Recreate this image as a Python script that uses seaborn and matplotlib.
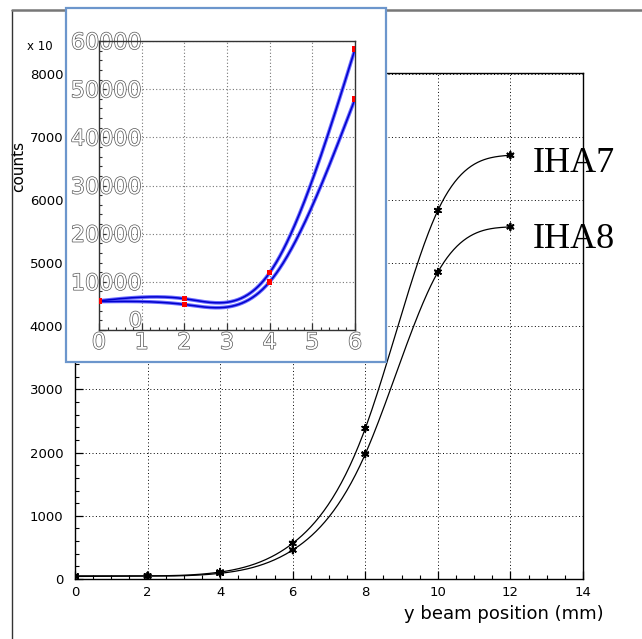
import numpy as np
import pandas as pd
import matplotlib
matplotlib.use("Agg")
import matplotlib.pyplot as plt
import matplotlib.patheffects as pe
import matplotlib.transforms as mtransforms
from matplotlib.patches import Rectangle
from matplotlib.lines import Line2D
from matplotlib.ticker import MultipleLocator
import seaborn as sns

# ---------------- data ----------------
y_pos = [0, 2, 4, 6, 8, 10, 12]
iha7_counts = [50, 50, 110, 565, 2384, 5834, 6709]
iha8_counts = [40, 45, 90, 459, 1978, 4858, 5574]

inset_x = [0, 2, 4, 6]
inset_upper = [6060, 6500, 11900, 58300]
inset_lower = [5900, 5300, 10000, 47950]

main_xticks = [0, 2, 4, 6, 8, 10, 12, 14]
main_yticks = [0, 1000, 2000, 3000, 4000, 5000, 6000, 7000, 8000]
inset_xticks = [0, 1, 2, 3, 4, 5, 6]
inset_yticks = [0, 10000, 20000, 30000, 40000, 50000, 60000]
series_names = ["IHA7", "IHA8"]


def natural_spline(x, y, xs):
    x = np.asarray(x, float); y = np.asarray(y, float)
    n = len(x); h = np.diff(x)
    A = np.zeros((n, n)); r = np.zeros(n)
    A[0, 0] = A[-1, -1] = 1
    for i in range(1, n - 1):
        A[i, i - 1] = h[i - 1]
        A[i, i] = 2 * (h[i - 1] + h[i])
        A[i, i + 1] = h[i]
        r[i] = 3 * ((y[i + 1] - y[i]) / h[i] - (y[i] - y[i - 1]) / h[i - 1])
    c = np.linalg.solve(A, r)
    b = (y[1:] - y[:-1]) / h - h * (2 * c[:-1] + c[1:]) / 3
    d = (c[1:] - c[:-1]) / (3 * h)
    idx = np.clip(np.searchsorted(x, xs) - 1, 0, n - 2)
    dx = xs - x[idx]
    return y[idx] + b[idx] * dx + c[idx] * dx ** 2 + d[idx] * dx ** 3


sns.set_theme(style="white")
plt.rcParams["font.family"] = ["DejaVu Sans"]
plt.rcParams["text.color"] = "black"
plt.rcParams["axes.labelcolor"] = "black"
plt.rcParams["xtick.color"] = "black"
plt.rcParams["ytick.color"] = "black"

W, H = 642, 639
fig = plt.figure(figsize=(W / 100, H / 100), dpi=100)

def fx(px): return px / W
def fy(py): return 1 - py / H

# outer pad frame
fig.add_artist(Line2D([fx(12), fx(12)], [fy(10), 0], color="#333333", lw=1.0, zorder=0.5))
fig.add_artist(Line2D([fx(12), 1], [fy(10), fy(10)], color="#777777", lw=1.8, zorder=0.5))

# ---------------- main axes ----------------
ax = fig.add_axes([fx(75), fy(579), fx(583) - fx(75), fy(73) - fy(579)], zorder=0)
ax.set_facecolor("white")
df = pd.DataFrame({
    "x": y_pos * 2,
    "counts": iha7_counts + iha8_counts,
    "det": [series_names[0]] * len(y_pos) + [series_names[1]] * len(y_pos),
})
xs = np.linspace(0, 12, 400)
for vals in (iha7_counts, iha8_counts):
    ax.plot(xs, natural_spline(y_pos, vals, xs), color="black", lw=0.9, zorder=3)
sns.scatterplot(data=df, x="x", y="counts", hue="det", palette=["black", "black"],
                marker=(6, 2, 0), s=24, linewidth=1.3, edgecolor="black",
                legend=False, ax=ax, zorder=4)
ax.set_xlim(0, 14)
ax.set_ylim(0, 8010)
ax.set_xticks(main_xticks)
ax.set_yticks(main_yticks)
ax.xaxis.set_minor_locator(MultipleLocator(0.5))
ax.yaxis.set_minor_locator(MultipleLocator(200))
ax.tick_params(which="both", direction="in", bottom=True, left=True, top=False, right=False,
               colors="black", labelsize=9.5)
ax.tick_params(which="major", length=6, width=0.9)
ax.tick_params(which="minor", length=3, width=0.8)
ax.tick_params(axis="y", pad=8.5)
ax.tick_params(axis="x", pad=5)
ax.grid(True, which="major", color="black", linestyle=(0, (1, 2.5)), lw=0.7)
for s in ax.spines.values():
    s.set_color("black"); s.set_linewidth(1.0)
ax.set_xlabel("y beam position (mm)", fontsize=13)
ax.xaxis.set_label_coords(1.04, -0.052)
ax.xaxis.label.set_ha("right")
ax.set_ylabel("counts", fontsize=11)
ax.yaxis.set_label_coords(-0.097, 0.815)
ax.text(-0.044, 1.053, "x 10", transform=ax.transAxes, ha="right", va="center", fontsize=8.5)

fig.text(fx(533), fy(172), series_names[0], family="Liberation Serif", fontsize=26,
         va="baseline", ha="left", color="black", zorder=5)
fig.text(fx(533), fy(248), series_names[1], family="Liberation Serif", fontsize=26,
         va="baseline", ha="left", color="black", zorder=5)

# ---------------- inset ----------------
box = Rectangle((fx(66), fy(362)), fx(386) - fx(66), fy(8) - fy(362), transform=fig.transFigure,
                facecolor="white", edgecolor="#6c96cc", lw=1.6, zorder=1)
fig.add_artist(box)

ax2 = fig.add_axes([fx(99), fy(330), fx(355) - fx(99), fy(41) - fy(330)], zorder=2)
ax2.set_facecolor("white")
dfi = pd.DataFrame({
    "x": inset_x * 2,
    "counts": inset_upper + inset_lower,
    "det": ["up"] * len(inset_x) + ["low"] * len(inset_x),
})
xsi = np.linspace(0, 6, 300)
for vals in (inset_upper, inset_lower):
    yi = natural_spline(inset_x, vals, xsi)
    ax2.plot(xsi, yi, color="#6a6aff", lw=2.6, zorder=3, solid_capstyle="butt")
    ax2.plot(xsi, yi, color="#0000cc", lw=1.1, zorder=3.1)
sns.scatterplot(data=dfi, x="x", y="counts", hue="det", palette=["red", "red"],
                marker="s", s=16, linewidth=0, legend=False, ax=ax2, zorder=4)
ax2.set_xlim(0, 6)
ax2.set_ylim(0, 60000)
ax2.set_xticks(inset_xticks)
ax2.set_yticks(inset_yticks)
ax2.set_xticklabels([str(v) for v in inset_xticks])
ax2.set_yticklabels([str(v) for v in inset_yticks])
ax2.xaxis.set_minor_locator(MultipleLocator(0.2))
ax2.yaxis.set_minor_locator(MultipleLocator(2000))
ax2.tick_params(which="both", direction="in", bottom=True, left=True, top=False, right=False,
                colors="#333333", labelsize=16, labelcolor="white")
ax2.tick_params(which="major", length=5, width=0.9)
ax2.tick_params(which="minor", length=2.5, width=0.8)
ax2.tick_params(axis="y", pad=-31)
ax2.tick_params(axis="x", pad=2)
outline = [pe.withStroke(linewidth=1.0, foreground="#555555")]
for lab in ax2.get_xticklabels() + ax2.get_yticklabels():
    lab.set_path_effects(outline)
# lift the y "0" label a little, as in the reference
ylabs = ax2.get_yticklabels()
ylabs[0].set_transform(ylabs[0].get_transform() +
                       mtransforms.ScaledTranslation(0, 8 / 72, fig.dpi_scale_trans))
ylabs[0].set_fontsize(15)
ax2.grid(True, which="major", color="#777777", linestyle=(0, (1, 2)), lw=0.8)
for s in ax2.spines.values():
    s.set_color("#333333"); s.set_linewidth(1.0)
ax2.set_xlabel(""); ax2.set_ylabel("")

fig.savefig("out.png", dpi=100)
